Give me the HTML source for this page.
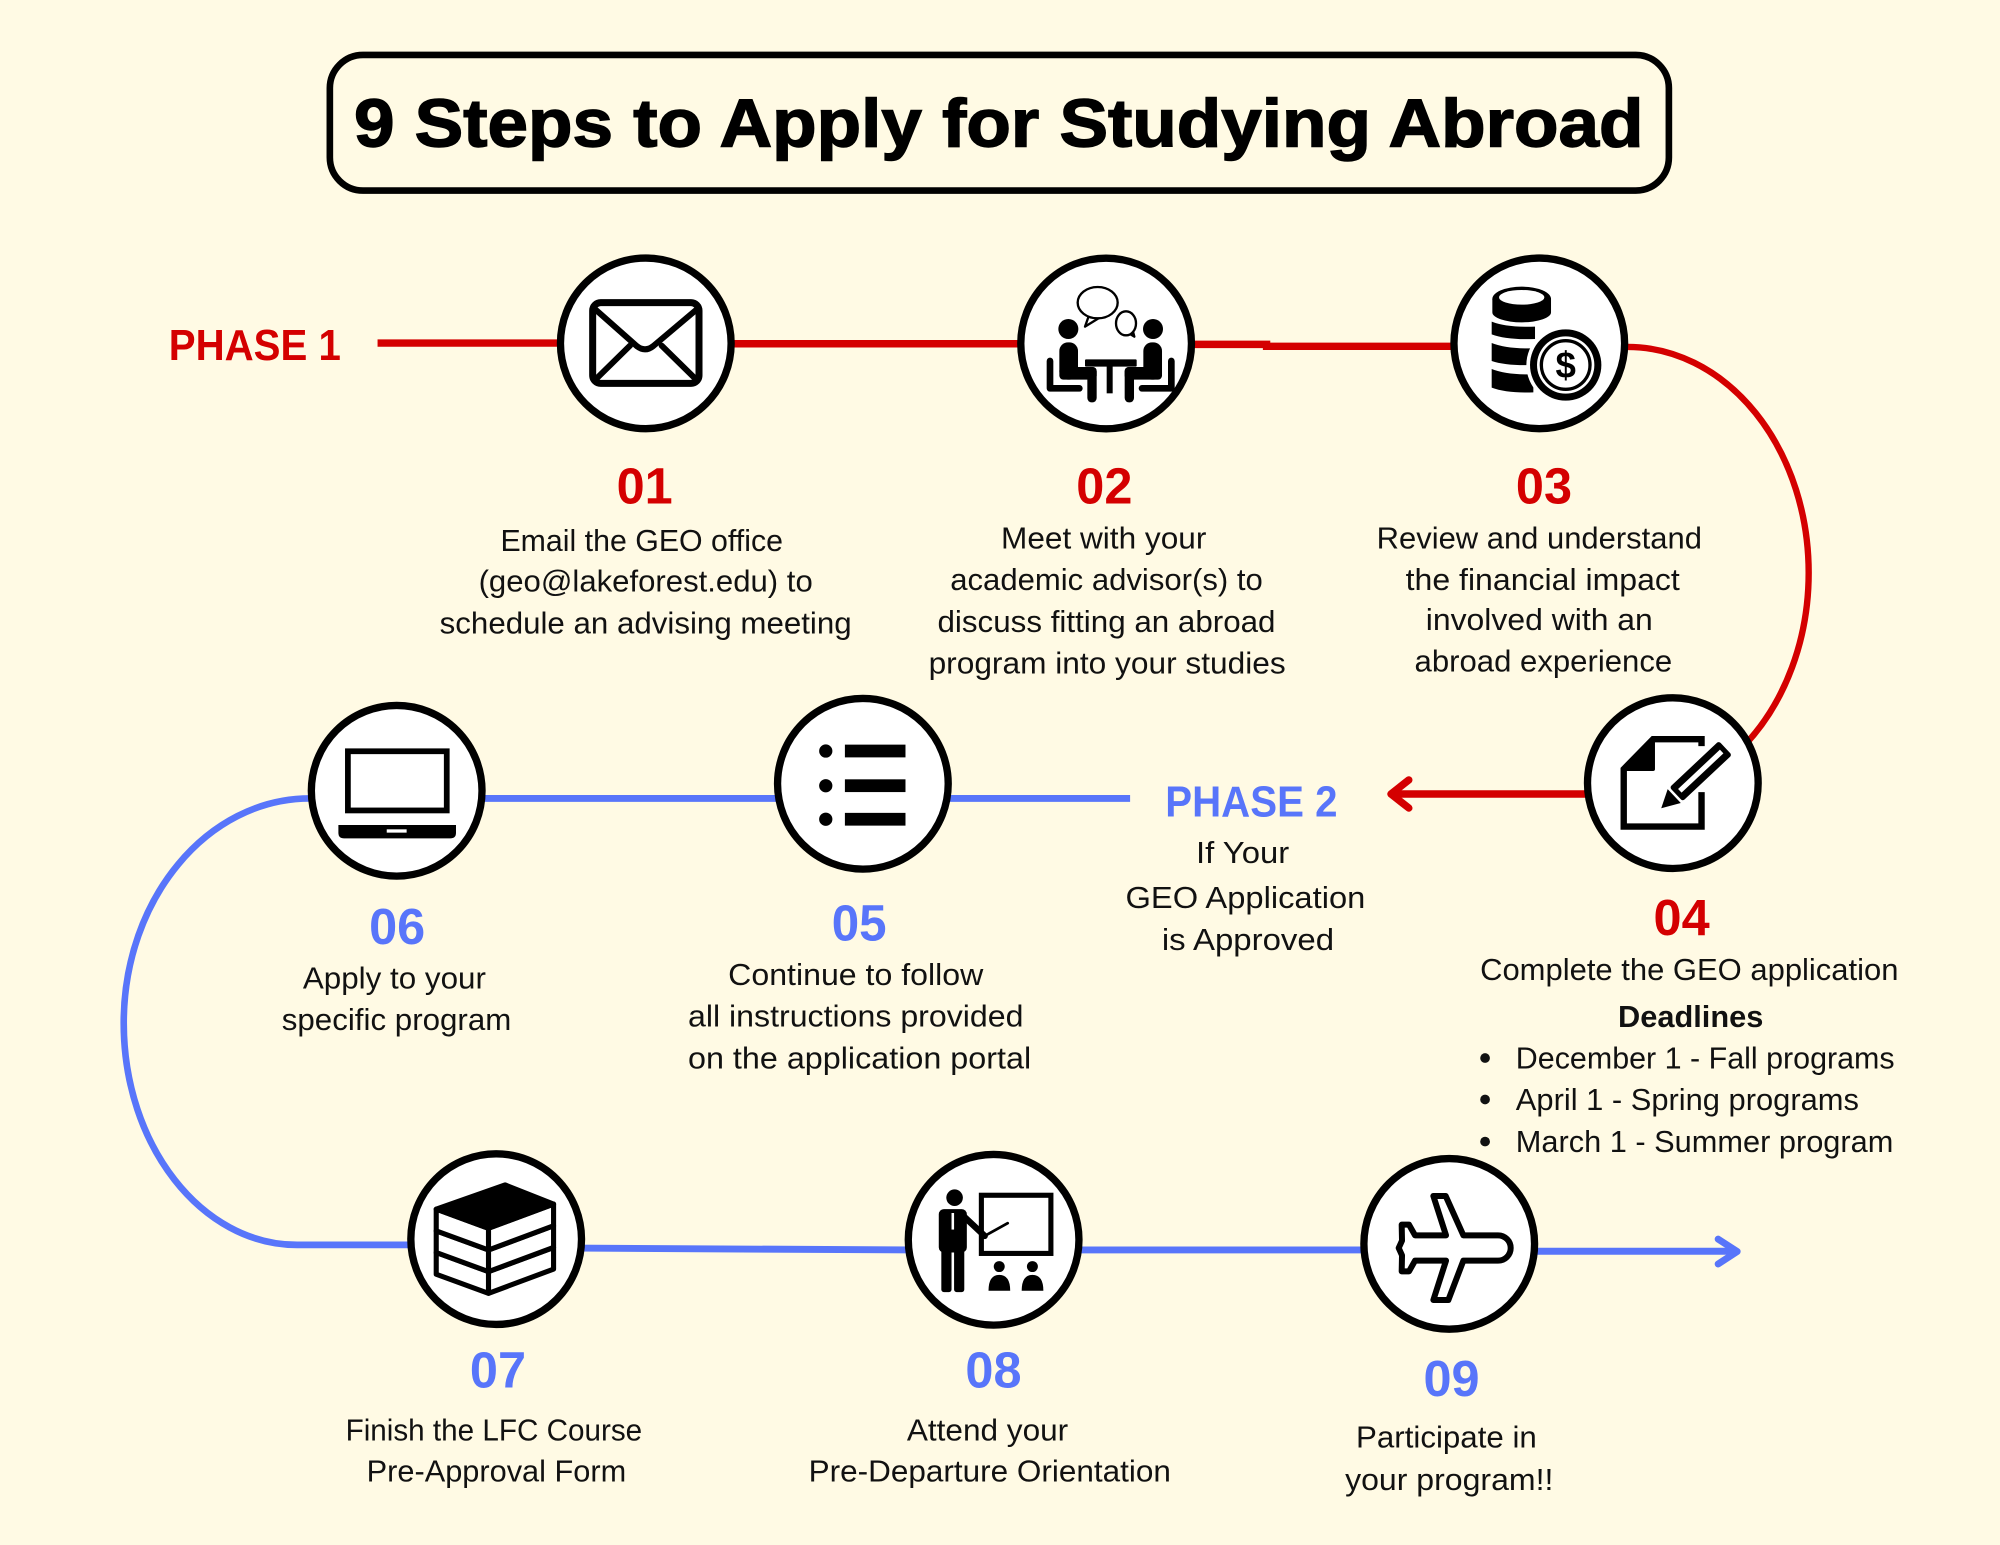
<!DOCTYPE html>
<html>
<head>
<meta charset="utf-8">
<style>
html,body{margin:0;padding:0;background:#FFFAE4;}
svg{display:block;}
.t{font-family:"Liberation Sans",Arial,sans-serif;font-size:24px;fill:#111;}
.n{font-family:"Liberation Sans",Arial,sans-serif;font-size:40px;font-weight:bold;}
.r{fill:#D40000;}
.bl{fill:#5875FA;}
.ph{font-family:"Liberation Sans",Arial,sans-serif;font-size:34px;font-weight:bold;}
</style>
</head>
<body>
<svg xmlns="http://www.w3.org/2000/svg" width="2000" height="1545" viewBox="0 0 1568 1211.3" preserveAspectRatio="none">
<rect x="0" y="0" width="1568" height="1212" fill="#FFFAE4"/>

<!-- Title -->
<rect x="258.6" y="43.1" width="1049.8" height="106.3" rx="26" ry="26" fill="#FFFAE4" stroke="#000" stroke-width="5.2"/>
<text x="783" y="115" text-anchor="middle" font-family="'Liberation Sans',Arial,sans-serif" font-weight="bold" font-size="53" fill="#000" stroke="#000" stroke-width="1.1" textLength="1011" lengthAdjust="spacingAndGlyphs">9 Steps to Apply for Studying Abroad</text>

<!-- Red connectors -->
<g fill="none" stroke="#D40000" stroke-linecap="butt">
  <path d="M296 269 H445" stroke-width="5.8"/>
  <path d="M570 269.5 H805" stroke-width="5.8"/>
  <path d="M930 270 H993 V271.5 H1145" stroke-width="5.8"/>
  <path d="M1262 272 H1276 A142 177 0 0 1 1418 449 A142 177 0 0 1 1368 584" stroke-width="5"/>
  <path d="M1250 622.5 H1093" stroke-width="5.8"/>
  <path d="M1104.5 611.5 L1090.5 622.5 L1104.5 633.5" stroke-width="5.8" stroke-linecap="round" stroke-linejoin="round"/>
</g>

<!-- Blue connectors -->
<g fill="none" stroke="#5875FA">
  <path d="M375 626 H615" stroke-width="5.4"/>
  <path d="M738 626 H886" stroke-width="5.4"/>
  <path d="M255 626 H243 C162.4 626 97 704.8 97 802 C97 898 158 976 233 976 H330" stroke-width="5.2"/>
  <path d="M450 978.5 L715 980" stroke-width="5.4"/>
  <path d="M842 980 H1075" stroke-width="5.4"/>
  <path d="M1198 981 H1360" stroke-width="5.4"/>
  <path d="M1347 971.5 L1362 981.2 L1347 991" stroke-width="5.4" stroke-linecap="round" stroke-linejoin="round"/>
</g>

<!-- Circles -->
<g fill="#fff" stroke="#000" stroke-width="5.75">
  <circle cx="506.3" cy="269.2" r="66.9"/>
  <circle cx="867.2" cy="269.3" r="66.9"/>
  <circle cx="1206.8" cy="269.2" r="66.9"/>
  <circle cx="1311.5" cy="614" r="66.9"/>
  <circle cx="676.5" cy="614.5" r="66.9"/>
  <circle cx="311" cy="620" r="66.9"/>
  <circle cx="389" cy="971.5" r="66.9"/>
  <circle cx="779" cy="972" r="66.9"/>
  <circle cx="1136.2" cy="975.2" r="66.9"/>
</g>

<!-- Icon 01 envelope -->
<g transform="translate(423.36,196.0) scale(0.26135)" fill="none" stroke="#000" stroke-linecap="round" stroke-linejoin="round">
  <rect x="158" y="158" width="319" height="242" rx="24" ry="24" stroke-width="21"/>
  <path d="M168 180 L290 288 Q315 308 340 288 L468 180" stroke-width="18"/>
  <path d="M170 385 L270 287 M465 385 L365 287" stroke-width="18"/>
</g>

<!-- Icon 02 meeting -->
<g transform="translate(784.0,199.92) scale(0.26135)">
  <g fill="#fff" stroke="#000" stroke-width="7" stroke-linejoin="round">
    <polygon points="382,232 403,245 396,218"/>
    <ellipse cx="378" cy="205" rx="30" ry="36"/>
    <polygon points="268,178 255,215 302,186"/>
    <ellipse cx="293" cy="143" rx="60" ry="47"/>
  </g>
  <g fill="#000">
    <rect x="255" y="313" width="155" height="22" rx="3"/>
    <rect x="320" y="333" width="18" height="82"/>
    <g>
      <circle cx="205" cy="222" r="30"/>
      <rect x="178" y="262" width="56" height="112" rx="26"/>
      <rect x="178" y="336" width="112" height="38" rx="12"/>
      <rect x="262" y="336" width="28" height="106" rx="13"/>
      <path d="M150 318 L150 400 L238 400" fill="none" stroke="#000" stroke-width="20" stroke-linecap="round" stroke-linejoin="round"/>
    </g>
    <g transform="translate(664,0) scale(-1,1)">
      <circle cx="205" cy="222" r="30"/>
      <rect x="178" y="262" width="56" height="112" rx="26"/>
      <rect x="178" y="336" width="112" height="38" rx="12"/>
      <rect x="262" y="336" width="28" height="106" rx="13"/>
      <path d="M150 318 L150 400 L238 400" fill="none" stroke="#000" stroke-width="20" stroke-linecap="round" stroke-linejoin="round"/>
    </g>
  </g>
</g>

<!-- Icon 03 coins -->
<g transform="translate(1136.81,199.92) scale(0.26135)">
  <path d="M125 200 Q170 218 255 215 L255 252 Q170 255 125 238 Z" fill="#000"/>
  <path d="M125 264 Q170 282 250 280 L250 330 Q170 333 125 318 Z" fill="#000"/>
  <path d="M125 342 Q170 360 250 358 L250 412 Q170 415 125 398 Z" fill="#000"/>
  <path d="M127 132 L127 172 A88 30 0 0 0 303 172 L303 132 Z" fill="#000"/>
  <ellipse cx="215" cy="132" rx="88" ry="37" fill="#000"/>
  <ellipse cx="215" cy="127" rx="68" ry="22" fill="#fff"/>
  <circle cx="347" cy="330" r="118" fill="#fff"/>
  <circle cx="347" cy="330" r="107" fill="#000"/>
  <circle cx="347" cy="330" r="86" fill="#fff"/>
  <circle cx="347" cy="330" r="73" fill="none" stroke="#000" stroke-width="10"/>
  <text x="347" y="368" text-anchor="middle" font-family="'Liberation Sans',Arial,sans-serif" font-weight="bold" font-size="110" fill="#000">$</text>
</g>

<!-- Icon 04 document + pencil -->
<g>
  <path d="M1334 585 L1334 579.5 L1296 579.5 L1273 603 L1273 648 L1334 648 L1334 621" fill="none" stroke="#000" stroke-width="5" stroke-linejoin="miter"/>
  <polygon points="1296,579.5 1273,603 1296,603" fill="#000" stroke="#000" stroke-width="3" stroke-linejoin="round"/>
  <g transform="translate(1302.4,633.7) rotate(-43.2)">
    <polygon points="0,0 14,-7.5 14,7.5" fill="#000"/>
    <rect x="16" y="-7.5" width="53" height="15" rx="2" fill="#000"/>
    <rect x="20" y="-2" width="45" height="4" fill="#fff"/>
  </g>
</g>

<!-- Icon 05 list -->
<g fill="#000">
  <circle cx="647.4" cy="588.8" r="5.2"/>
  <circle cx="647.4" cy="616" r="5.2"/>
  <circle cx="647.4" cy="642.3" r="5.2"/>
  <rect x="662.4" y="583.8" width="47.5" height="10"/>
  <rect x="662.4" y="611" width="47.5" height="10"/>
  <rect x="662.4" y="637.3" width="47.5" height="10"/>
</g>

<!-- Icon 06 laptop -->
<g>
  <rect x="272.75" y="589" width="77.5" height="46.4" fill="#fff" stroke="#000" stroke-width="4.5"/>
  <path d="M265.3 646.8 H357.5 V653 Q357.5 657.3 353 657.3 H269.8 Q265.3 657.3 265.3 653 Z" fill="#000"/>
  <rect x="303.2" y="650.2" width="15.6" height="2.6" fill="#fff"/>
</g>

<!-- Icon 07 books -->
<g stroke="#000" stroke-width="4" stroke-linejoin="round">
  <polygon points="342,999 383,1014 383,997 342,982" fill="#fff"/>
  <polygon points="383,1014 434,995 434,978 383,997" fill="#fff"/>
  <polygon points="342,982 383,997 383,980 342,965" fill="#fff"/>
  <polygon points="383,997 434,978 434,961 383,980" fill="#fff"/>
  <polygon points="342,965 383,980 383,963 342,948" fill="#fff"/>
  <polygon points="383,980 434,961 434,944 383,963" fill="#fff"/>
  <polygon points="342,948 396,929 434,944 383,963" fill="#000"/>
</g>

<!-- Icon 08 presentation -->
<g>
  <rect x="769.4" y="937.1" width="54.5" height="45.6" fill="#fff" stroke="#000" stroke-width="4"/>
  <circle cx="748.4" cy="939" r="6.5" fill="#000"/>
  <rect x="736" y="948" width="22" height="34" rx="4" fill="#000"/>
  <rect x="738" y="975" width="8" height="38" rx="2" fill="#000"/>
  <rect x="748" y="975" width="8" height="38" rx="2" fill="#000"/>
  <line x1="747" y1="951" x2="747" y2="964" stroke="#fff" stroke-width="2"/>
  <line x1="756" y1="954" x2="772" y2="969" stroke="#000" stroke-width="5" stroke-linecap="round"/>
  <line x1="772" y1="969" x2="790" y2="959" stroke="#000" stroke-width="2.2" stroke-linecap="round"/>
  <circle cx="783.4" cy="993" r="4.3" fill="#000"/>
  <circle cx="809.4" cy="993" r="4.3" fill="#000"/>
  <path d="M775 1012 Q775 999.5 783.4 999.5 Q792 999.5 792 1012 Z" fill="#000"/>
  <path d="M801 1012 Q801 999.5 809.4 999.5 Q818 999.5 818 1012 Z" fill="#000"/>
</g>

<!-- Icon 09 airplane -->
<g transform="translate(1019.21,901.61) scale(0.26135)">
  <path d="M490 256 L594 256 A38 38 0 0 1 594 332 L490 332 L445 450 L400 450 L438 332 L345 332 L327 364 L305 364 L306 316 L296 294 L306 272 L305 224 L327 224 L345 256 L438 256 L400 138 L437 138 Z" fill="#fff" stroke="#000" stroke-width="18" stroke-linejoin="round"/>
</g>

<!-- Phase labels -->
<text x="132.3" y="282.2" class="ph r" textLength="135" lengthAdjust="spacingAndGlyphs">PHASE 1</text>
<text x="913.6" y="640.3" class="ph bl" textLength="135" lengthAdjust="spacingAndGlyphs">PHASE 2</text>

<!-- Step numbers -->
<g text-anchor="middle">
  <text x="505.4" y="394.6" class="n r" textLength="44" lengthAdjust="spacingAndGlyphs">01</text>
  <text x="865.8" y="394.6" class="n r" textLength="44" lengthAdjust="spacingAndGlyphs">02</text>
  <text x="1210.5" y="394.6" class="n r" textLength="44" lengthAdjust="spacingAndGlyphs">03</text>
  <text x="1318.4" y="733" class="n r" textLength="44" lengthAdjust="spacingAndGlyphs">04</text>
  <text x="673.6" y="737.5" class="n bl" textLength="43" lengthAdjust="spacingAndGlyphs">05</text>
  <text x="311.4" y="740.1" class="n bl" textLength="44" lengthAdjust="spacingAndGlyphs">06</text>
  <text x="390.4" y="1087.7" class="n bl" textLength="44" lengthAdjust="spacingAndGlyphs">07</text>
  <text x="778.9" y="1087.7" class="n bl" textLength="44" lengthAdjust="spacingAndGlyphs">08</text>
  <text x="1138" y="1094.5" class="n bl" textLength="44" lengthAdjust="spacingAndGlyphs">09</text>
</g>

<!-- Body text -->
<g text-anchor="middle" class="t">
  <text x="503.1" y="432" textLength="221.5" lengthAdjust="spacingAndGlyphs">Email the GEO office</text>
  <text x="506.2" y="463.9" textLength="262" lengthAdjust="spacingAndGlyphs">(geo@lakeforest.edu) to</text>
  <text x="506.2" y="496.5" textLength="323" lengthAdjust="spacingAndGlyphs">schedule an advising meeting</text>

  <text x="865.3" y="430" textLength="161" lengthAdjust="spacingAndGlyphs">Meet with your</text>
  <text x="867.5" y="462.6" textLength="245" lengthAdjust="spacingAndGlyphs">academic advisor(s) to</text>
  <text x="867.5" y="495.5" textLength="265" lengthAdjust="spacingAndGlyphs">discuss fitting an abroad</text>
  <text x="868" y="528" textLength="280" lengthAdjust="spacingAndGlyphs">program into your studies</text>

  <text x="1206.8" y="430" textLength="255" lengthAdjust="spacingAndGlyphs">Review and understand</text>
  <text x="1209.5" y="462.6" textLength="215" lengthAdjust="spacingAndGlyphs">the financial impact</text>
  <text x="1206.8" y="494" textLength="178" lengthAdjust="spacingAndGlyphs">involved with an</text>
  <text x="1210" y="526.6" textLength="202" lengthAdjust="spacingAndGlyphs">abroad experience</text>

  <text x="974.2" y="676.8" textLength="73" lengthAdjust="spacingAndGlyphs">If Your</text>
  <text x="976.4" y="712" textLength="188" lengthAdjust="spacingAndGlyphs">GEO Application</text>
  <text x="978.4" y="744.8" textLength="135" lengthAdjust="spacingAndGlyphs">is Approved</text>

  <text x="1324.4" y="768.3" textLength="328" lengthAdjust="spacingAndGlyphs">Complete the GEO application</text>
  <text x="1325.5" y="805" font-weight="bold" textLength="114" lengthAdjust="spacingAndGlyphs">Deadlines</text>

  <text x="309.2" y="774.9" textLength="143.5" lengthAdjust="spacingAndGlyphs">Apply to your</text>
  <text x="310.9" y="807.5" textLength="180" lengthAdjust="spacingAndGlyphs">specific program</text>

  <text x="670.9" y="772.2" textLength="200" lengthAdjust="spacingAndGlyphs">Continue to follow</text>
  <text x="670.9" y="804.9" textLength="263" lengthAdjust="spacingAndGlyphs">all instructions provided</text>
  <text x="673.9" y="837.6" textLength="269" lengthAdjust="spacingAndGlyphs">on the application portal</text>

  <text x="387.2" y="1129.5" textLength="232.5" lengthAdjust="spacingAndGlyphs">Finish the LFC Course</text>
  <text x="389.2" y="1161.6" textLength="203.5" lengthAdjust="spacingAndGlyphs">Pre-Approval Form</text>

  <text x="774.2" y="1129.5" textLength="126.5" lengthAdjust="spacingAndGlyphs">Attend your</text>
  <text x="776" y="1161.6" textLength="284" lengthAdjust="spacingAndGlyphs">Pre-Departure Orientation</text>

  <text x="1134" y="1135" textLength="141.7" lengthAdjust="spacingAndGlyphs">Participate in</text>
  <text x="1136.2" y="1168" textLength="163.3" lengthAdjust="spacingAndGlyphs">your program!!</text>
</g>

<!-- Deadlines bullets -->
<g fill="#111">
  <circle cx="1164.3" cy="829.5" r="3.8"/>
  <circle cx="1164.3" cy="862" r="3.8"/>
  <circle cx="1164.3" cy="895" r="3.8"/>
</g>
<g class="t">
  <text x="1188.4" y="837.6" textLength="297" lengthAdjust="spacingAndGlyphs">December 1 - Fall programs</text>
  <text x="1188.4" y="870.2" textLength="269" lengthAdjust="spacingAndGlyphs">April 1 - Spring programs</text>
  <text x="1188.4" y="903" textLength="296" lengthAdjust="spacingAndGlyphs">March 1 - Summer program</text>
</g>
</svg>
</body>
</html>
